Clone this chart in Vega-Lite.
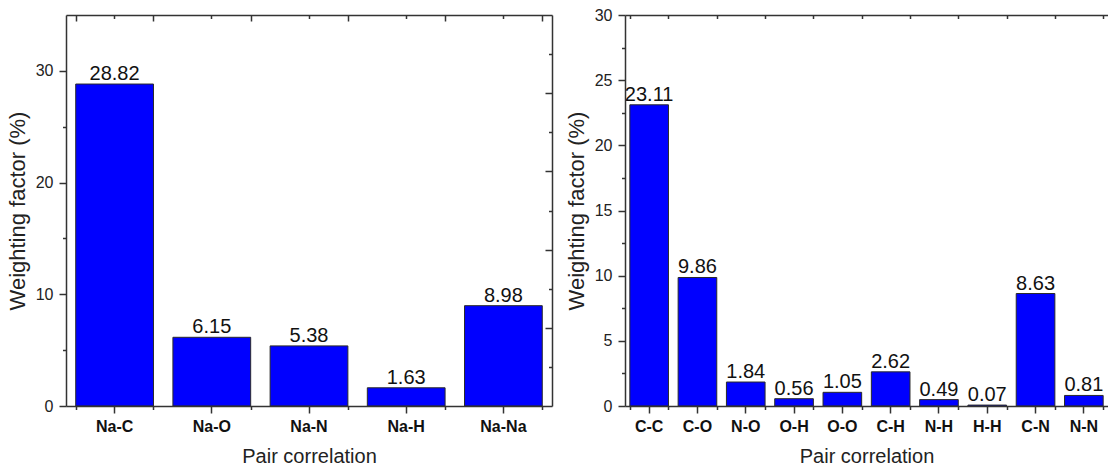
{
  "$schema": "https://vega.github.io/schema/vega-lite/v6.json",
  "background": "white",
  "padding": {"left": 6, "top": 7, "right": 0, "bottom": 0},
  "config": {
    "font": "Liberation Sans",
    "view": {"stroke": null},
    "axis": {
      "domainColor": "#333333",
      "domainWidth": 1.5,
      "tickColor": "#333333",
      "tickWidth": 1.5,
      "labelColor": "#222222",
      "titleColor": "#222222",
      "labelFont": "Liberation Sans",
      "titleFont": "Liberation Sans",
      "titleFontWeight": "normal",
      "grid": false
    }
  },
  "datasets": {
    "sodium": [
      {"pair": "Na-C", "weight": 28.82},
      {"pair": "Na-O", "weight": 6.15},
      {"pair": "Na-N", "weight": 5.38},
      {"pair": "Na-H", "weight": 1.63},
      {"pair": "Na-Na", "weight": 8.98}
    ],
    "organic": [
      {"pair": "C-C", "weight": 23.11},
      {"pair": "C-O", "weight": 9.86},
      {"pair": "N-O", "weight": 1.84},
      {"pair": "O-H", "weight": 0.56},
      {"pair": "O-O", "weight": 1.05},
      {"pair": "C-H", "weight": 2.62},
      {"pair": "N-H", "weight": 0.49},
      {"pair": "H-H", "weight": 0.07},
      {"pair": "C-N", "weight": 8.63},
      {"pair": "N-N", "weight": 0.81}
    ]
  },
  "spacing": 12,
  "hconcat": [
    {
      "width": 486,
      "height": 391,
      "data": {"name": "sodium"},
      "layer": [
        {
          "mark": {"type": "bar", "fill": "#0000ff", "stroke": "#2a2a2a", "strokeWidth": 1},
          "encoding": {
            "x": {
              "field": "pair", "type": "nominal", "sort": null,
              "scale": {"paddingInner": 0.2, "paddingOuter": 0.1},
              "axis": {
                "orient": "bottom", "zindex": 2, "title": "Pair correlation",
                "titleFontSize": 20, "titlePadding": 12,
                "labelFontSize": 16, "labelFontWeight": "bold", "labelColor": "#111111",
                "labelAngle": 0, "labelPadding": 5, "tickSize": 7
              }
            },
            "y": {
              "field": "weight", "type": "quantitative",
              "scale": {"domain": [0, 35], "nice": false},
              "axis": {
                "orient": "left", "zindex": 2, "title": "Weighting factor (%)",
                "titleFontSize": 22, "titlePadding": 6,
                "values": [0, 10, 20, 30], "labelFontSize": 16, "labelPadding": 6, "tickSize": 7
              }
            }
          }
        },
        {
          "mark": {"type": "text", "baseline": "alphabetic", "dy": -4, "fontSize": 20, "color": "#111111"},
          "encoding": {
            "x": {
              "field": "pair", "type": "nominal", "sort": null,
              "scale": {"paddingInner": 0.2, "paddingOuter": 0.1},
              "axis": {"orient": "bottom", "zindex": 2, "tickBand": "extent", "labels": false, "domain": false, "title": null, "tickSize": 3.5}
            },
            "y": {
              "field": "weight", "type": "quantitative",
              "scale": {"domain": [0, 35], "nice": false},
              "axis": {"orient": "left", "zindex": 2, "values": [5, 15, 25], "labels": false, "domain": false, "title": null, "tickSize": 3.5}
            },
            "text": {"field": "weight", "type": "quantitative", "format": ".2f"}
          }
        },
        {
          "mark": {"type": "point", "opacity": 0},
          "encoding": {
            "x": {
              "field": "pair", "type": "nominal", "sort": null,
              "scale": {"paddingInner": 0.2, "paddingOuter": 0.1},
              "axis": {"orient": "top", "tickBand": "extent", "labels": false, "title": null, "tickSize": -6}
            },
            "y": {
              "field": "weight", "type": "quantitative",
              "scale": {"domain": [0, 35], "nice": false},
              "axis": {"orient": "right", "values": [7, 14, 21, 28], "labels": false, "title": null, "tickSize": -7}
            }
          }
        },
        {
          "mark": {"type": "point", "opacity": 0},
          "encoding": {
            "x": {
              "field": "pair", "type": "nominal", "sort": null,
              "scale": {"paddingInner": 0.2, "paddingOuter": 0.1},
              "axis": {"orient": "top", "labels": false, "domain": false, "title": null, "tickSize": -3.5}
            },
            "y": {
              "field": "weight", "type": "quantitative",
              "scale": {"domain": [0, 35], "nice": false},
              "axis": {"orient": "right", "values": [3.5, 10.5, 17.5, 24.5, 31.5], "labels": false, "domain": false, "title": null, "tickSize": -3.5}
            }
          }
        }
      ],
      "resolve": {"axis": {"x": "independent", "y": "independent"}}
    },
    {
      "width": 483,
      "height": 391,
      "data": {"name": "organic"},
      "layer": [
        {
          "mark": {"type": "bar", "fill": "#0000ff", "stroke": "#2a2a2a", "strokeWidth": 1},
          "encoding": {
            "x": {
              "field": "pair", "type": "nominal", "sort": null,
              "scale": {"paddingInner": 0.2, "paddingOuter": 0.1},
              "axis": {
                "orient": "bottom", "zindex": 2, "title": "Pair correlation",
                "titleFontSize": 20, "titlePadding": 12,
                "labelFontSize": 16, "labelFontWeight": "bold", "labelColor": "#111111",
                "labelAngle": 0, "labelPadding": 5, "tickSize": 7
              }
            },
            "y": {
              "field": "weight", "type": "quantitative",
              "scale": {"domain": [0, 30], "nice": false},
              "axis": {
                "orient": "left", "zindex": 2, "title": "Weighting factor (%)",
                "titleFontSize": 22, "titlePadding": 6,
                "values": [0, 5, 10, 15, 20, 25, 30], "labelFontSize": 16, "labelPadding": 6, "tickSize": 7
              }
            }
          }
        },
        {
          "mark": {"type": "text", "baseline": "alphabetic", "dy": -4, "fontSize": 20, "color": "#111111"},
          "encoding": {
            "x": {
              "field": "pair", "type": "nominal", "sort": null,
              "scale": {"paddingInner": 0.2, "paddingOuter": 0.1},
              "axis": {"orient": "bottom", "zindex": 2, "tickBand": "extent", "labels": false, "domain": false, "title": null, "tickSize": 3.5}
            },
            "y": {
              "field": "weight", "type": "quantitative",
              "scale": {"domain": [0, 30], "nice": false},
              "axis": {"orient": "left", "zindex": 2, "values": [2.5, 7.5, 12.5, 17.5, 22.5, 27.5], "labels": false, "domain": false, "title": null, "tickSize": 3.5}
            },
            "text": {"field": "weight", "type": "quantitative", "format": ".2f"}
          }
        },
        {
          "mark": {"type": "point", "opacity": 0},
          "encoding": {
            "x": {
              "field": "pair", "type": "nominal", "sort": null,
              "scale": {"paddingInner": 0.2, "paddingOuter": 0.1},
              "axis": {"orient": "top", "tickBand": "extent", "labels": false, "title": null, "tickSize": -3.5}
            },
            "y": {
              "field": "weight", "type": "quantitative",
              "scale": {"domain": [0, 30], "nice": false},
              "axis": null
            }
          }
        }
      ],
      "resolve": {"axis": {"x": "independent", "y": "independent"}}
    }
  ]
}
